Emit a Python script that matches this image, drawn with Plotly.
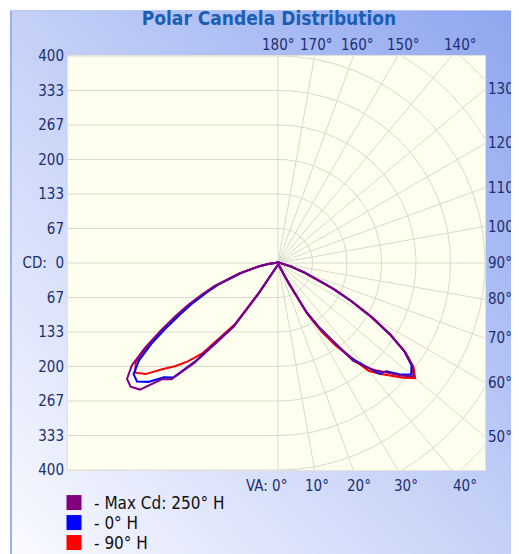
import base64
import numpy as np
import plotly.graph_objects as go

# ---------------- data ----------------
VA = [0, 5, 10, 15, 20, 25, 27.5, 30, 32.5, 35, 37.5, 40, 42.5, 45, 47.5, 50,
      52.5, 55, 57.5, 60, 62.5, 65, 67.5, 70, 75, 80, 85, 90, 100, 120, 150, 180]

# right half of the chart (plane shown to the right), candela
max_right = [3, 3, 3, 4, 5, 10, 35, 110, 150, 185, 238, 262, 282, 300, 322, 342,
             328, 300, 258, 210, 162, 120, 82, 56, 26, 12, 6, 3, 2, 2, 2, 2]
h0_right = [3, 3, 3, 4, 5, 12, 40, 108, 146, 182, 232, 258, 290, 296, 318, 336,
            325, 298, 256, 208, 160, 118, 80, 55, 25, 12, 6, 3, 2, 2, 2, 2]
h90_right = [3, 3, 3, 4, 5, 12, 45, 115, 158, 195, 228, 272, 290, 308, 328, 346,
             330, 300, 256, 206, 158, 116, 78, 53, 24, 11, 5, 2, 2, 2, 2, 2]

# left half of the chart (opposite plane), candela
max_left = [3, 3, 3, 4, 4, 6, 10, 22, 70, 152, 190, 252, 305, 318, 362, 372,
            368, 345, 305, 262, 225, 192, 160, 132, 78, 40, 18, 6, 3, 2, 2, 2]
h0_left = [3, 3, 3, 4, 4, 6, 10, 22, 68, 150, 186, 246, 300, 312, 340, 356,
           352, 328, 290, 248, 212, 180, 150, 124, 72, 37, 16, 5, 3, 2, 2, 2]
h90_left = [3, 3, 3, 4, 4, 6, 10, 20, 62, 142, 176, 228, 258, 282, 304, 334,
            348, 336, 298, 255, 218, 186, 155, 128, 75, 38, 17, 5, 3, 2, 2, 2]

SERIES_NAMES = ["- Max Cd: 250° H", "- 0° H", "- 90° H"]
SERIES_COLORS = ["#800080", "#0000ff", "#ff0000"]

CD_MAX = 400
CD_TICK_TEXT = ["400", "333", "267", "200", "133", "67", "CD:\u00a0\u00a00",
                "67", "133", "200", "267", "333", "400"]
TOP_ANGLES = [180, 170, 160, 150, 140]
RIGHT_ANGLES = [130, 120, 110, 100, 90, 80, 70, 60, 50]
BOTTOM_ANGLES = [0, 10, 20, 30, 40]

# ---------------- helpers ----------------
def to_xy(angles, right, left):
    a = np.radians(np.array(angles, dtype=float))
    r_r = np.array(right, dtype=float)
    r_l = np.array(left, dtype=float)
    xr, yr = r_r * np.sin(a), -r_r * np.cos(a)
    xl, yl = -r_l * np.sin(a), -r_l * np.cos(a)
    x = np.concatenate([xr, xl[::-1]])
    y = np.concatenate([yr, yl[::-1]])
    return x, y

step = CD_MAX / 6
X_LEFT = -406

# grid
gx, gy = [], []
for k in range(-6, 7):
    gx += [X_LEFT, 0, None]
    gy += [k * step, k * step, None]
for a in range(0, 181, 10):
    t = np.radians(a)
    gx += [0, 700 * np.sin(t), None]
    gy += [0, -700 * np.cos(t), None]
th = np.radians(np.linspace(0, 180, 361))
for k in range(1, 9):
    r = k * step
    gx += list(r * np.sin(th)) + [None]
    gy += list(-r * np.cos(th)) + [None]

fig = go.Figure()
fig.add_trace(go.Scatter(x=gx, y=gy, mode="lines",
                         line=dict(color="#d8d8ce", width=1),
                         hoverinfo="skip", showlegend=False))

curves = [(h90_right, h90_left, 2), (h0_right, h0_left, 1), (max_right, max_left, 0)]
for rr, ll, idx in curves:
    x, y = to_xy(VA, rr, ll)
    fig.add_trace(go.Scatter(x=x, y=y, mode="lines",
                             line=dict(color=SERIES_COLORS[idx], width=2),
                             name=SERIES_NAMES[idx], showlegend=False))

legend_names = ["legend", "legend2", "legend3"]
for i, (nm, col) in enumerate(zip(SERIES_NAMES, SERIES_COLORS)):
    fig.add_trace(go.Scatter(x=[None], y=[None], mode="markers",
                             marker=dict(symbol="square", size=15, color=col),
                             name=nm, legend=legend_names[i], showlegend=True))

FONT = "DejaVu Sans Condensed, Liberation Sans, sans-serif"
LBL = "#1d2f6f"

# page body has an 8px margin: figure pixel = screen pixel - 8
OFF = 8
W, H = 519 - OFF, 554 - OFF
L, T = 68 - OFF, 56 - OFF
R = W - (485 - OFF)
B = H - (470 - OFF)
pw, ph = W - L - R, H - T - B

def px2paper_x(px):  # px in screen coordinates
    return (px - OFF - L) / pw

def px2paper_y(py):
    return (H - B - (py - OFF)) / ph

def dx2paper(x):
    return (x - X_LEFT) / (CD_MAX - X_LEFT)

def dy2paper(y):
    return (y + CD_MAX) / (2 * CD_MAX)

ann = []
for a in TOP_ANGLES:
    d = 421
    ann.append(dict(x=dx2paper(d * np.tan(np.radians(180 - a))), y=dy2paper(d),
                    xref="paper", yref="paper",
                    text=f"{a}°", showarrow=False, xanchor="center", yanchor="middle",
                    font=dict(size=15, color=LBL, family=FONT)))
for a in RIGHT_ANGLES:
    yv = -CD_MAX / np.tan(np.radians(a))
    ann.append(dict(x=1, y=dy2paper(yv), xref="paper", yref="paper", text=f"{a}°",
                    showarrow=False, xanchor="left", yanchor="middle", xshift=1,
                    font=dict(size=15, color=LBL, family=FONT)))
for a in BOTTOM_ANGLES:
    d = 430
    txt = f"VA: {a}°" if a == 0 else f"{a}°"
    ann.append(dict(x=dx2paper(d * np.tan(np.radians(a))), y=dy2paper(-d),
                    xref="paper", yref="paper",
                    text=txt, showarrow=False,
                    xanchor="right" if a == 0 else "center", yanchor="middle",
                    xshift=11 if a == 0 else 0,
                    font=dict(size=15, color=LBL, family=FONT)))

PW, PH = W - (10 - OFF), H - (10 - OFF)
px0, py0 = 68 - 10, 56 - 10  # plot area inside the panel
svg = (f'<svg xmlns="http://www.w3.org/2000/svg" width="{PW}" height="{PH}" '
       f'viewBox="0 0 {PW} {PH}" preserveAspectRatio="none"><defs>'
       '<linearGradient id="g" x1="0" y1="1" x2="1" y2="0">'
       '<stop offset="0" stop-color="#fafbff"/><stop offset="1" stop-color="#8ea5ef"/>'
       f'</linearGradient></defs><rect width="{PW}" height="{PH}" fill="url(#g)"/>'
       f'<rect x="{px0}" y="{py0}" width="{pw}" height="{ph}" fill="#fffff0"/>'
       f'<line x1="1" y1="0" x2="1" y2="{PH}" stroke="#9cb0e8" stroke-width="2"/>'
       f'<line x1="0" y1="0.5" x2="{PW}" y2="0.5" stroke="#b8c8f2" stroke-width="1"/></svg>')
src = "data:image/svg+xml;base64," + base64.b64encode(svg.encode()).decode()

leg_common = dict(x=px2paper_x(54), xanchor="left", yanchor="middle",
                  bgcolor="rgba(0,0,0,0)", font=dict(size=17, color="#111111", family=FONT))

fig.update_layout(
    width=W, height=H,
    margin=dict(l=L, r=R, t=T, b=B, autoexpand=False),
    paper_bgcolor="white",
    plot_bgcolor="rgba(0,0,0,0)",
    title=dict(text="<b>Polar Candela Distribution</b>", x=px2paper_x(269), xref="paper",
               xanchor="center", y=1 - (18 - OFF) / H, yanchor="middle",
               font=dict(size=19, color="#1b5fb5", family=FONT)),
    xaxis=dict(range=[X_LEFT, CD_MAX], showgrid=False, zeroline=False,
               showticklabels=False, showline=True, mirror=True, linecolor="#e2e2da",
               fixedrange=True),
    yaxis=dict(range=[-CD_MAX, CD_MAX], showgrid=False, zeroline=False,
               tickvals=[CD_MAX - i * step for i in range(13)], ticktext=CD_TICK_TEXT,
               tickfont=dict(size=15, color=LBL, family=FONT), ticks="",
               showline=True, mirror=True, linecolor="#e2e2da", fixedrange=True),
    annotations=ann,
    images=[dict(source=src, xref="paper", yref="paper", x=px2paper_x(10),
                 y=px2paper_y(10), sizex=PW / pw, sizey=PH / ph, xanchor="left",
                 yanchor="top", sizing="stretch", layer="below")],
    legend=dict(y=px2paper_y(503), **leg_common),
    legend2=dict(y=px2paper_y(523), **leg_common),
    legend3=dict(y=px2paper_y(543), **leg_common),
    showlegend=True,
)

fig.write_html("out.html")
